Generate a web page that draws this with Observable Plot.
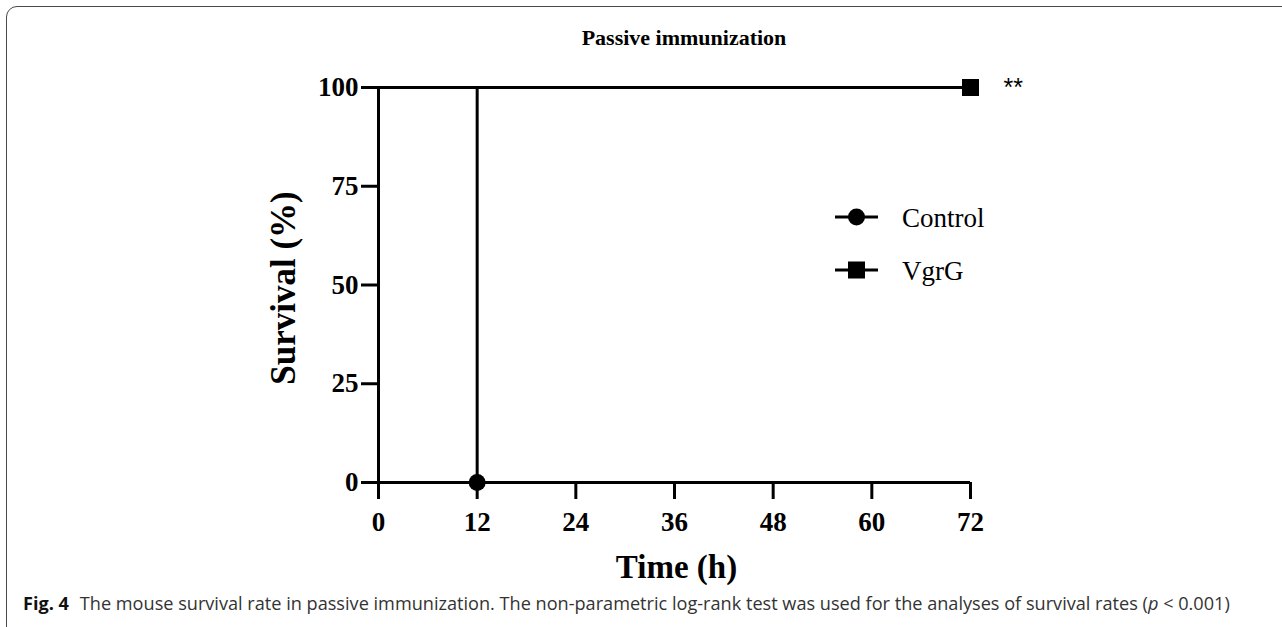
<!DOCTYPE html>
<html>
<head>
<meta charset="utf-8">
<script src="https://cdn.jsdelivr.net/npm/d3@7"></script>
<script src="https://cdn.jsdelivr.net/npm/@observablehq/plot@0.6"></script>
<style>
  html, body { margin: 0; padding: 0; background: #fff; }
  #wrap { position: relative; width: 1282px; height: 627px; overflow: hidden; background: #fff; }
  #border { position: absolute; left: 6px; top: 6px; width: 1320px; height: 640px; border: 1.3px solid #4a4a4a; border-radius: 11px; box-sizing: border-box; }
  #title { position: absolute; left: 0; width: 1368px; top: 25px; text-align: center; font-family: "Liberation Serif", serif; font-weight: bold; font-size: 22px; color: #000; }
  #chart { position: absolute; left: 0; top: 0; }
  #legend { position: absolute; left: 0; top: 0; }
  #caption { position: absolute; left: 23px; top: 590px; font-family: "Open Sans", sans-serif; font-size: 14px; line-height: 1; color: #333; white-space: nowrap; }
  #caption b { color: #111; font-weight: 700; }
</style>
</head>
<body>
<div id="wrap">
  <div id="border"></div>
  <div id="chart"></div>
  <div id="title"></div>
  <div id="legend"></div>
  <div id="caption"></div>
</div>
<script>
// ---- data ----
const titleText = "Passive immunization";
const seriesNames = ["Control", "VgrG"];
const controlTime = [0, 12];
const controlSurvival = [100, 0];
const vgrgTime = [0, 72];
const vgrgSurvival = [100, 100];
const xTicks = [0, 12, 24, 36, 48, 60, 72];
const yTicks = [0, 25, 50, 75, 100];
const xLabel = "Time (h)";
const yLabel = "Survival (%)";
const significance = "**";
const captionLead = "Fig. 4";
const captionText = "The mouse survival rate in passive immunization. The non-parametric log-rank test was used for the analyses of survival rates (";

// ---- build tables ----
const control = controlTime.map((t, i) => ({time: t, survival: controlSurvival[i], group: seriesNames[0]}));
const vgrg = vgrgTime.map((t, i) => ({time: t, survival: vgrgSurvival[i], group: seriesNames[1]}));

const serif = "'Liberation Serif', 'Times New Roman', serif";

const plot = Plot.plot({
  width: 1282,
  height: 627,
  marginLeft: 378,
  marginRight: 312,
  marginTop: 87,
  marginBottom: 145,
  style: {fontFamily: serif, color: "#000", background: "transparent", overflow: "visible"},
  x: {domain: [0, 72]},
  y: {domain: [0, 100]},
  marks: [
    Plot.axisX({ticks: xTicks, tickSize: 17, tickPadding: 12, strokeWidth: 3, fontSize: 27, fontWeight: "bold", fontFamily: serif, label: null, tickFormat: d => String(d)}),
    Plot.axisY({ticks: yTicks, tickSize: 17, tickPadding: 3, strokeWidth: 3, fontSize: 27, fontWeight: "bold", fontFamily: serif, label: null, tickFormat: d => String(d)}),
    Plot.ruleX([0], {y1: 0, y2: 100, strokeWidth: 3, stroke: "#000"}),
    Plot.ruleY([0], {x1: 0, x2: 72, strokeWidth: 3, stroke: "#000"}),
    Plot.line(control, {x: "time", y: "survival", curve: "step-after", strokeWidth: 3, stroke: "#000"}),
    Plot.line(vgrg, {x: "time", y: "survival", curve: "step-after", strokeWidth: 3, stroke: "#000"}),
    Plot.dot(control.slice(-1), {x: "time", y: "survival", r: 8.5, fill: "#000", stroke: "none", symbol: "circle"}),
    Plot.dot(vgrg.slice(-1), {x: "time", y: "survival", r: 9.6, fill: "#000", stroke: "none", symbol: "square"}),
    Plot.text(vgrg.slice(-1), {x: "time", y: "survival", text: () => significance, textAnchor: "start", lineAnchor: "top", dx: 33, dy: -9, fontSize: 25, fontFamily: "'Liberation Sans', Arial, sans-serif", fill: "#000"}),
    Plot.text([yLabel], {frameAnchor: "left", textAnchor: "middle", lineAnchor: "middle", rotate: -90, dx: -95, dy: 3, fontSize: 35, fontWeight: "bold", fontFamily: serif, fill: "#000"}),
    Plot.text([xLabel], {frameAnchor: "bottom", textAnchor: "middle", lineAnchor: "middle", dy: 85, dx: 2, fontSize: 33, fontWeight: "bold", fontFamily: serif, fill: "#000"})
  ]
});
document.getElementById("chart").appendChild(plot);

document.getElementById("title").textContent = titleText;

// legend
const ns = "http://www.w3.org/2000/svg";
const lg = document.createElementNS(ns, "svg");
lg.setAttribute("width", 1282);
lg.setAttribute("height", 627);
const legendRows = [
  {name: seriesNames[0], symbol: "circle", y: 217},
  {name: seriesNames[1], symbol: "square", y: 270}
];
legendRows.forEach(row => {
  const ln = document.createElementNS(ns, "line");
  ln.setAttribute("x1", 835); ln.setAttribute("x2", 878);
  ln.setAttribute("y1", row.y); ln.setAttribute("y2", row.y);
  ln.setAttribute("stroke", "#000"); ln.setAttribute("stroke-width", 3);
  lg.appendChild(ln);
  let sym;
  if (row.symbol === "circle") {
    sym = document.createElementNS(ns, "circle");
    sym.setAttribute("cx", 856.5); sym.setAttribute("cy", row.y); sym.setAttribute("r", 8.5);
  } else {
    sym = document.createElementNS(ns, "rect");
    sym.setAttribute("x", 848); sym.setAttribute("y", row.y - 8.5); sym.setAttribute("width", 17); sym.setAttribute("height", 17);
  }
  sym.setAttribute("fill", "#000");
  lg.appendChild(sym);
  const tx = document.createElementNS(ns, "text");
  tx.setAttribute("x", 902); tx.setAttribute("y", row.y + 10);
  tx.setAttribute("font-family", "Liberation Serif, serif");
  tx.setAttribute("font-size", 27);
  tx.setAttribute("fill", "#000");
  tx.textContent = row.name;
  lg.appendChild(tx);
});
document.getElementById("legend").appendChild(lg);

// caption
const cap = document.getElementById("caption");
const b = document.createElement("b");
b.textContent = captionLead;
cap.appendChild(b);
const gap = document.createElement("span");
gap.style.display = "inline-block";
gap.style.width = "0.6em";
cap.appendChild(gap);
cap.appendChild(document.createTextNode(captionText));
const it = document.createElement("i");
it.textContent = "p";
cap.appendChild(it);
cap.appendChild(document.createTextNode(" < 0.001)"));
// fit caption to the reference's width (x 23 .. 1231)
const w0 = cap.getBoundingClientRect().width;
const fs = 14 * 1208 / w0;
cap.style.fontSize = fs + "px";
cap.style.top = (603 - fs * 0.5) + "px";
</script>
</body>
</html>
